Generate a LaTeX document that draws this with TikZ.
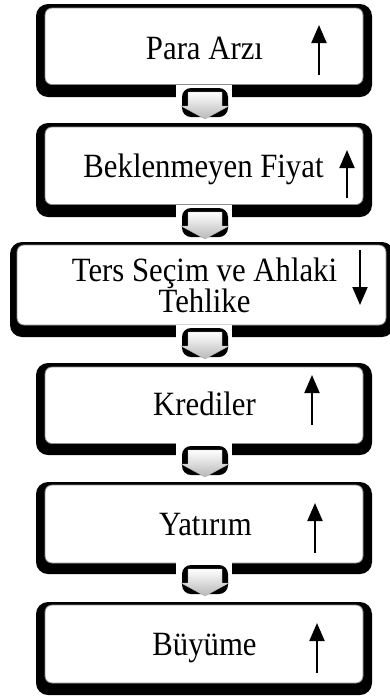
\documentclass[tikz,border=0pt]{standalone}
\usepackage{fontspec}
\setmainfont[FakeStretch=0.905]{Liberation Serif}
\usetikzlibrary{arrows.meta,calc}
\tikzset{
  outerbox/.style={rectangle, fill=black, rounded corners=12pt, inner sep=0pt, outer sep=0pt},
  innerbox/.style={rectangle, fill=white, draw=black!45, line width=0.8pt, rounded corners=7pt, inner sep=0pt, outer sep=0pt},
  boxtext/.style={font=\fontsize{34}{31}\selectfont, inner sep=0pt, anchor=base, align=center},
  trend/.style={line width=2pt, -{Triangle[width=15pt,length=18pt]}},
  hoodarrow/.style={top color=white, bottom color=black!28, draw=black!30, line width=0.4pt},
  hood/.pic={
    \fill[white] (-29,-12.4) rectangle (27,1);
    \fill[black, rounded corners=9pt] (-23,-9) rectangle (23,20);
    \shade[hoodarrow] (-17,-5) -- (17,-5) -- (17,9) -- (24,9) -- (0,22) -- (-24,9) -- (-17,9) -- cycle;
  }
}
\begin{document}
\begin{tikzpicture}[x=1pt,y=-1pt]
\useasboundingbox[fill=white] (0,0) rectangle (389,697);
\coordinate (xc) at (205,0);
% boxes
\node[outerbox, minimum width=336pt, minimum height=93pt] (b1) at (204,50.5) {};
\node[innerbox, minimum width=318pt, minimum height=76.5pt] (i1) at (204,46.25) {};
\node[outerbox, minimum width=336pt, minimum height=94pt] (b2) at (204,170) {};
\node[innerbox, minimum width=318pt, minimum height=77.5pt] (i2) at (204,165.75) {};
\node[outerbox, minimum width=384pt, minimum height=95pt] (b3) at (202,289.5) {};
\node[innerbox, minimum width=369pt, minimum height=80pt] (i3) at (201.5,285) {};
\node[outerbox, minimum width=336pt, minimum height=92pt] (b4) at (204,409) {};
\node[innerbox, minimum width=318pt, minimum height=76.5pt] (i4) at (204,405.25) {};
\node[outerbox, minimum width=336pt, minimum height=92pt] (b5) at (204,528) {};
\node[innerbox, minimum width=318pt, minimum height=78pt] (i5) at (204,524) {};
\node[outerbox, minimum width=336pt, minimum height=93pt] (b6) at (204,648.5) {};
\node[innerbox, minimum width=318pt, minimum height=78pt] (i6) at (204,644) {};
% connectors
\pic at (b1.south -| xc) {hood};
\pic at (b2.south -| xc) {hood};
\pic at (b3.south -| xc) {hood};
\pic at (b4.south -| xc) {hood};
\pic at (b5.south -| xc) {hood};
% texts
\node[boxtext] (t1) at (204.5,59) {Para Arzı};
\node[boxtext] (t2) at (203.5,177) {Beklenmeyen Fiyat};
\node[boxtext] (t3) at (204.5,312) {Ters Seçim ve Ahlaki\\Tehlike};
\node[boxtext] (t4) at (204.5,415) {Krediler};
\node[boxtext] (t5) at (205.5,535) {Yatırım};
\node[boxtext] (t6) at (204.5,655) {Büyüme};
% trend arrows
\coordinate (a1s) at (319,75);  \coordinate (a1e) at (319,25);
\coordinate (a2s) at (347,198); \coordinate (a2e) at (347,150);
\coordinate (a3s) at (360,250); \coordinate (a3e) at (360,305);
\coordinate (a4s) at (312,425); \coordinate (a4e) at (312,375);
\coordinate (a5s) at (315,553); \coordinate (a5e) at (315,503);
\coordinate (a6s) at (317,673); \coordinate (a6e) at (317,623);
\draw[trend] (a1s) -- (a1e);
\draw[trend] (a2s) -- (a2e);
\draw[trend] (a3s) -- (a3e);
\draw[trend] (a4s) -- (a4e);
\draw[trend] (a5s) -- (a5e);
\draw[trend] (a6s) -- (a6e);
\end{tikzpicture}
\end{document}
